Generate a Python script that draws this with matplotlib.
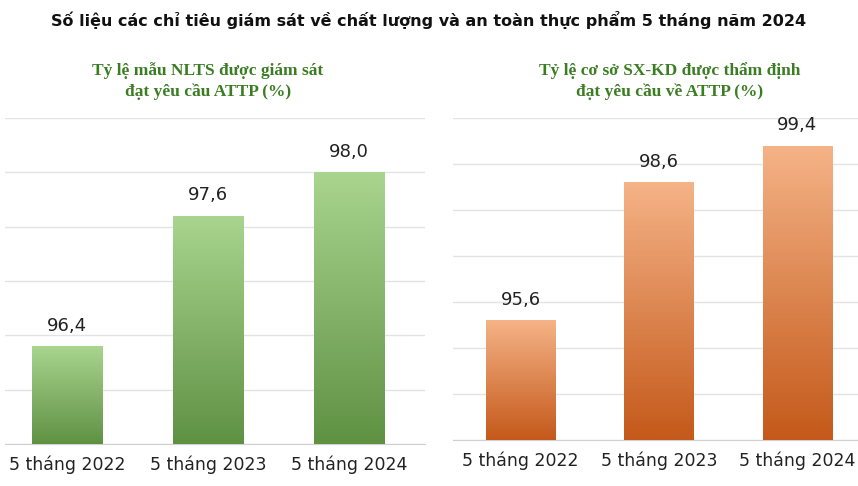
import matplotlib
matplotlib.use("Agg")
import matplotlib.pyplot as plt
import numpy as np
from matplotlib.colors import LinearSegmentedColormap

categories = ["5 tháng 2022", "5 tháng 2023", "5 tháng 2024"]
left_values = [96.4, 97.6, 98.0]
right_values = [95.6, 98.6, 99.4]
title = "Số liệu các chỉ tiêu giám sát về chất lượng và an toàn thực phẩm 5 tháng năm 2024"
left_title = "Tỷ lệ mẫu NLTS được giám sát\nđạt yêu cầu ATTP (%)"
right_title = "Tỷ lệ cơ sở SX-KD được thẩm định\nđạt yêu cầu về ATTP (%)"

W, H = 858, 486
fig = plt.figure(figsize=(W/100, H/100), dpi=100)

def panel(rect, values, ylim, step, xlim, top_c, bot_c):
    ax = fig.add_axes(rect)
    x = np.arange(len(values))
    bars = ax.bar(x, values, width=0.5, color="none", zorder=3)
    cmap = LinearSegmentedColormap.from_list("g", [bot_c, top_c])
    grad = np.linspace(0, 1, 256).reshape(-1, 1)
    for b, v in zip(bars, values):
        im = ax.imshow(grad, cmap=cmap, origin="lower", aspect="auto",
                       extent=[b.get_x(), b.get_x()+b.get_width(), ylim[0], v], zorder=3)
        im.set_clip_path(b)
        ax.text(b.get_x()+b.get_width()/2, v + (ylim[1]-ylim[0])*0.035, f"{v:.1f}".replace(".", ","),
                ha="center", va="bottom", fontsize=13, color="#222222")
    ax.set_xlim(*xlim)
    ax.set_ylim(*ylim)
    ax.set_yticks(np.arange(ylim[0], ylim[1]+1e-9, step))
    ax.yaxis.grid(True, color="#e3e3e3", lw=1, zorder=0)
    ax.tick_params(axis="y", left=False, labelleft=False)
    ax.tick_params(axis="x", length=0, pad=8, labelsize=12.5, labelcolor="#222222")
    ax.set_xticks(x)
    ax.set_xticklabels(categories)
    for s in ["top", "left", "right"]:
        ax.spines[s].set_visible(False)
    ax.spines["bottom"].set_color("#d0d0d0")
    return ax

panel([5/W, (H-444)/H, 420/W, (444-118)/H], left_values, (95.5, 98.5), 0.5,
      (-0.44, 2.54), "#a9d58f", "#5f9143")
panel([453/W, (H-440)/H, 405/W, (440-118)/H], right_values, (93, 100), 1,
      (-0.49, 2.44), "#f5b387", "#c4591a")

fig.text(0.5, 1-20/H, title, ha="center", va="center", fontsize=11.5, fontweight="bold", color="#111111")
fig.text(208/W, 1-81/H, left_title, ha="center", va="center", fontsize=12.5, fontweight="bold",
         color="#3b7d23", family="Liberation Serif", linespacing=1.3)
fig.text(670/W, 1-81/H, right_title, ha="center", va="center", fontsize=12.5, fontweight="bold",
         color="#3b7d23", family="Liberation Serif", linespacing=1.3)

fig.savefig("out.png", dpi=100)
